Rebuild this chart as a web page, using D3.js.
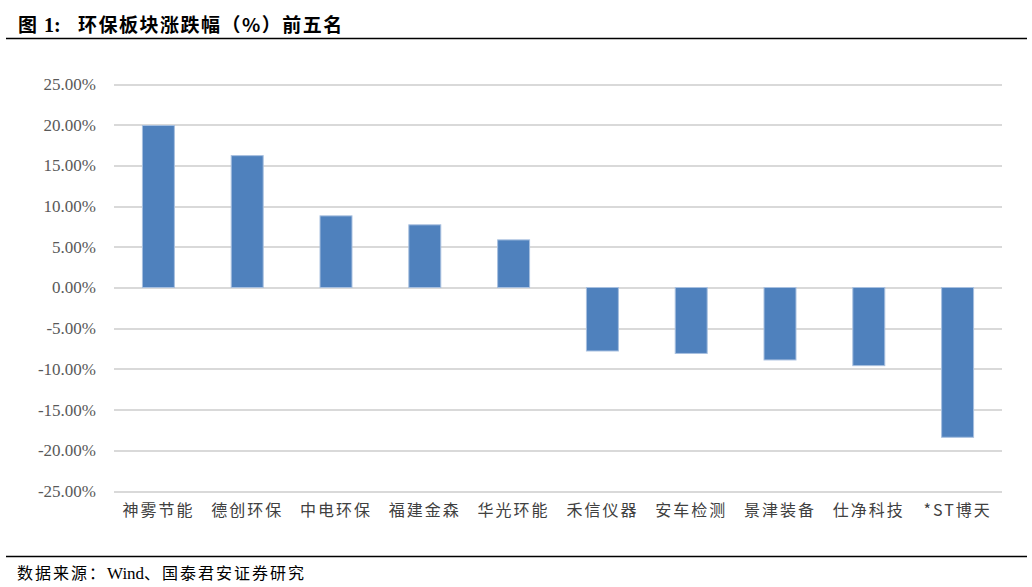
<!DOCTYPE html>
<meta charset="utf-8">
<style>
  body { margin: 0; background: #fff; }
  .grid line { stroke: #d9d9d9; stroke-width: 2; shape-rendering: crispEdges; }
  .grid path { display: none; }
  .axis path, .axis line { display: none; }
  .bar { fill: #4f81bd; stroke: #a7bfdf; stroke-width: 1; }
</style>
<body>
<script src="https://d3js.org/d3.v7.min.js"></script>
<script>

var names = ["神雾节能", "德创环保", "中电环保", "福建金森", "华光环能",
             "禾信仪器", "安车检测", "景津装备", "仕净科技", "*ST博天"];
var changes = [19.9, 16.2, 8.8, 7.7, 5.85, -7.8, -8.1, -8.9, -9.6, -18.4];
var yTicks = [-25, -20, -15, -10, -5, 0, 5, 10, 15, 20, 25];

var W = 1032, H = 587;
var plot = {left: 114, right: 1002, top: 84, bottom: 491};

var svg = d3.select("body").append("svg")
  .attr("width", W)
  .attr("height", H);

// title + rules
var title = svg.append("text")
  .attr("y", 32)
  .style("font-family", "'Noto Sans CJK SC', sans-serif")
  .style("font-weight", "bold")
  .style("font-size", "19px")
  .style("fill", "#000");
title.append("tspan").attr("x", 18).text("图");
title.append("tspan").attr("x", 44).style("font-family", "'Liberation Serif', serif").style("font-size", "20px").text("1:");
title.append("tspan").attr("x", 78).style("letter-spacing", "1.5px").text("环保板块涨跌幅（%）前五名");

svg.append("line")
  .attr("x1", 6).attr("x2", 1027).attr("y1", 38.5).attr("y2", 38.5)
  .attr("stroke", "#000").attr("stroke-width", 1.5);

svg.append("line")
  .attr("x1", 6).attr("x2", 1027).attr("y1", 556.5).attr("y2", 556.5)
  .attr("stroke", "#000").attr("stroke-width", 1.5);

var src = svg.append("text")
  .attr("y", 579)
  .style("font-family", "'Noto Sans CJK SC', sans-serif")
  .style("font-size", "16px")
  .style("fill", "#000");
src.append("tspan").attr("x", 17).style("letter-spacing", "2px").text("数据来源：");
src.append("tspan").style("font-family", "'Liberation Serif', serif").style("font-size", "17px").text("Wind");
src.append("tspan").style("letter-spacing", "2px").text("、国泰君安证券研究");

var x = d3.scaleBand()
  .domain(names)
  .range([plot.left, plot.right])
  .paddingInner(0.64)
  .paddingOuter(0.32);

var y = d3.scaleLinear()
  .domain([-25, 25])
  .range([plot.bottom, plot.top]);

// gridlines
svg.append("g")
  .attr("class", "grid")
  .attr("transform", "translate(" + plot.left + ",0)")
  .call(d3.axisLeft(y).tickValues(yTicks).tickSize(-(plot.right - plot.left)).tickFormat(""));

// y labels
svg.append("g")
  .attr("class", "y axis")
  .attr("transform", "translate(" + (plot.left - 15) + ",0)")
  .call(d3.axisLeft(y).tickValues(yTicks).tickSize(0)
    .tickFormat(function(d) { return d.toFixed(2) + "%"; }))
  .selectAll("text")
    .style("font-family", "'Liberation Serif', serif")
    .style("font-size", "17px")
    .style("fill", "#595959");

svg.selectAll(".bar")
  .data(names)
  .enter().append("rect")
  .attr("class", "bar")
  .attr("x", function(d) { return x(d); })
  .attr("width", x.bandwidth())
  .attr("y", function(d, i) { return y(Math.max(0, changes[i])); })
  .attr("height", function(d, i) { return Math.abs(y(changes[i]) - y(0)); });

// category labels
svg.append("g")
  .attr("class", "x axis")
  .attr("transform", "translate(0," + (plot.bottom + 8) + ")")
  .call(d3.axisBottom(x).tickSize(0).tickPadding(6))
  .selectAll("text")
    .style("font-family", "'Noto Sans CJK SC', sans-serif")
    .style("font-size", "16px")
    .style("letter-spacing", "2px")
    .style("fill", "#404040");

</script>
</body>
